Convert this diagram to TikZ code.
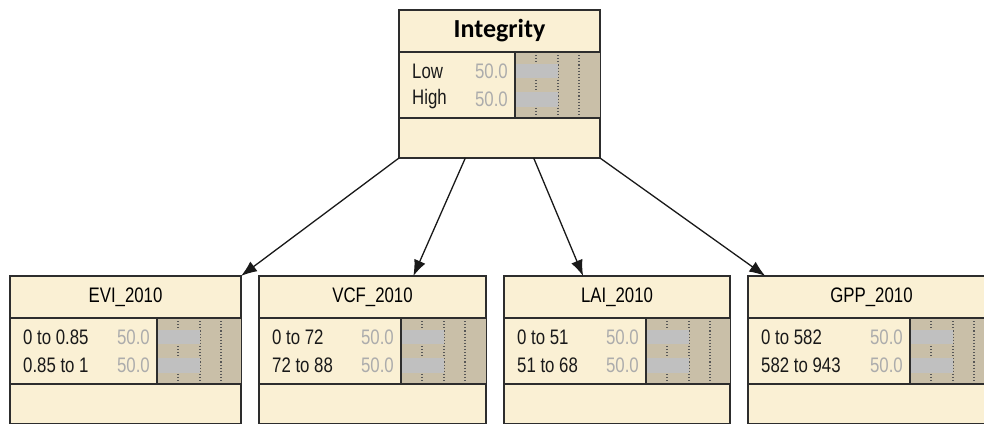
\documentclass[tikz,border=0pt]{standalone}
\usepackage{fontspec}
\setmainfont{Liberation Sans}[FakeStretch=0.8]
\newfontfamily\titlefont{Carlito}
\usepackage{xcolor}
\definecolor{nodefill}{RGB}{250,240,212}
\definecolor{barbg}{RGB}{201,191,168}
\definecolor{barfill}{RGB}{192,192,192}
\definecolor{probtext}{RGB}{172,172,172}
\definecolor{boxline}{RGB}{45,45,45}
\usepackage{tikz}
\usetikzlibrary{positioning}
\usetikzlibrary{calc}
\usetikzlibrary{arrows.meta}

% table of one node: #1 node, #2 width of the label column, #3 #4 states
\newcommand{\cptable}[4]{%
	\fill[barbg] ($(#1.north west)+(#2,42)$) rectangle ($(#1.north east)+(0,108)$);
	\foreach \d in {21,43,64}
		\draw[boxline!80,dotted,line width=1.1pt] ($(#1.north west)+(#2+\d,42)$) -- ($(#1.north west)+(#2+\d,108)$);
	\fill[barfill] ($(#1.north west)+(#2,54)$) rectangle ++(43,14);
	\fill[barfill] ($(#1.north west)+(#2,82)$) rectangle ++(43,15);
	\draw[divider] ($(#1.north west)+(0,42)$) -- ($(#1.north east)+(0,42)$);
	\draw[divider] ($(#1.north west)+(0,108)$) -- ($(#1.north east)+(0,108)$);
	\draw[divider] ($(#1.north west)+(#2,42)$) -- ($(#1.north west)+(#2,108)$);
	\node[statetext,anchor=west] (#1-s1) at ($(#1.north west)+(13,61)$) {#3};
	\node[statetext,anchor=west] (#1-s2) at ($(#1.north west)+(13,89)$) {#4};
	\node[probval,anchor=east] (#1-p1) at ($(#1.north west)+(#2-7,61)$) {50.0};
	\node[probval,anchor=east] (#1-p2) at ($(#1.north west)+(#2-7,89)$) {50.0};
}

\begin{document}
\begin{tikzpicture}[x=1pt,y=-1pt,node distance=18pt,
	cpt/.style={draw=boxline,line width=1.5pt,fill=nodefill,inner sep=0,outer sep=0,minimum height=148pt,anchor=north west},
	divider/.style={boxline,line width=2pt},
	cpttitle/.style={inner sep=0,font=\fontsize{21}{24}\selectfont},
	statetext/.style={inner sep=0,text=black!90,font=\fontsize{21}{24}\selectfont},
	probval/.style={inner sep=0,text=probtext,font=\fontsize{21}{24}\selectfont},
	link/.style={-{Latex[length=16pt,width=12pt]},line width=1.3pt,black!90}]
	\useasboundingbox (0,0) rectangle (984,423);
	\clip (0,0) rectangle (984,423);
	\fill[white] (0,0) rectangle (984,423);

	% nodes
	\node[cpt,minimum width=201pt] (integ) at (399,10) {};
	\node[cpt,minimum width=231pt] (evi) at (10,276) {};
	\node[cpt,minimum width=227pt,right=of evi] (vcf) {};
	\node[cpt,minimum width=226pt,right=of vcf] (lai) {};
	\node[cpt,minimum width=247pt,right=of lai] (gpp) {};

	\cptable{integ}{116}{Low}{High}
	\cptable{evi}{147}{0 to 0.85}{0.85 to 1}
	\cptable{vcf}{142}{0 to 72}{72 to 88}
	\cptable{lai}{142}{0 to 51}{51 to 68}
	\cptable{gpp}{162}{0 to 582}{582 to 943}

	\node[inner sep=0,font=\titlefont\bfseries\fontsize{26}{28}\selectfont] (integ-title) at ($(integ.north)+(0,21)$) {Integrity};
	\node[cpttitle] (evi-title) at ($(evi.north)+(0,21)$) {EVI\_2010};
	\node[cpttitle] (vcf-title) at ($(vcf.north)+(0,21)$) {VCF\_2010};
	\node[cpttitle] (lai-title) at ($(lai.north)+(0,21)$) {LAI\_2010};
	\node[cpttitle] (gpp-title) at ($(gpp.north)+(0,21)$) {GPP\_2010};

	% links
	\draw[link] (integ.south west) -- (evi.north east);
	\draw[link] ($(integ.south west)!0.33!(integ.south east)$) -- ($(vcf.north west)!0.68!(vcf.north east)$);
	\draw[link] ($(integ.south west)!0.67!(integ.south east)$) -- ($(lai.north west)!0.35!(lai.north east)$);
	\draw[link] (integ.south east) -- ($(gpp.north west)!0.07!(gpp.north east)$);
\end{tikzpicture}
\end{document}
